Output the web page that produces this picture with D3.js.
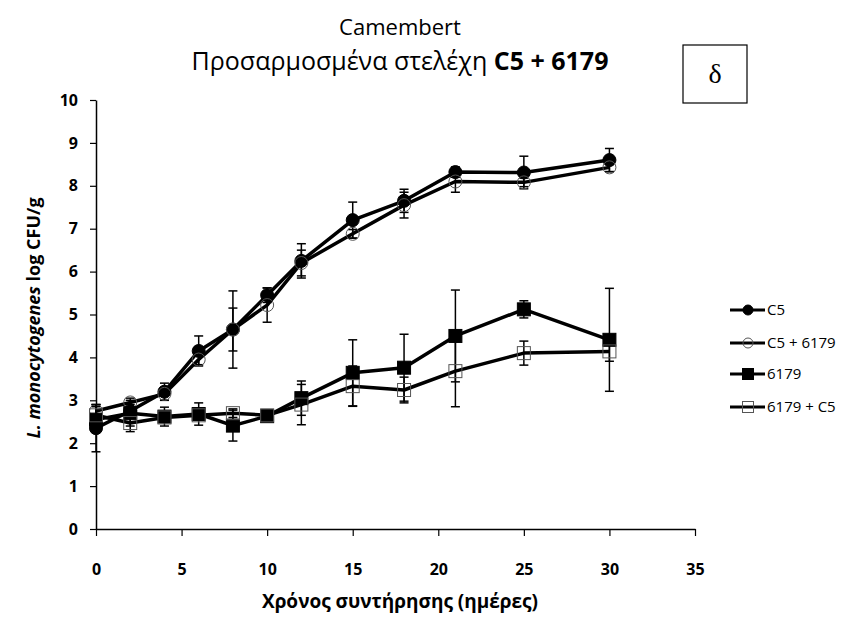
<!DOCTYPE html>
<html>
<head>
<meta charset="utf-8">
<script src="https://cdn.jsdelivr.net/npm/d3@7"></script>
<style>
  body { margin: 0; background: #fff; }
  svg { display: block; font-family: "Open Sans", "Noto Sans", sans-serif; }
</style>
</head>
<body>
<svg id="chart" width="849" height="617"></svg>
<script>
// Storage time (days)
const days = [0, 2, 4, 6, 8, 10, 12, 15, 18, 21, 25, 30];

// Series names
const seriesNames = ["C5", "C5 + 6179", "6179", "6179 + C5"];

// Mean counts, log CFU/g
const c5      = [2.35, 2.75, 3.2, 4.15, 4.65, 5.45, 6.25, 7.2, 7.65, 8.32, 8.31, 8.6];
const c5Mix   = [2.75, 2.95, 3.15, 3.95, 4.65, 5.22, 6.2, 6.88, 7.55, 8.1, 8.08, 8.43];
const s6179   = [2.55, 2.7, 2.62, 2.68, 2.41, 2.63, 3.05, 3.64, 3.76, 4.5, 5.12, 4.41];
const s6179Mix= [2.65, 2.47, 2.6, 2.65, 2.7, 2.65, 2.9, 3.33, 3.24, 3.68, 4.1, 4.14];

// Standard deviations
const c5Err      = [0.55, 0.15, 0.2, 0.35, 0.9, 0.17, 0.4, 0.42, 0.27, 0.12, 0.38, 0.27];
const c5MixErr   = [0.15, 0.1, 0.15, 0.12, 0.5, 0.4, 0.3, 0.1, 0.3, 0.25, 0.1, 0.1];
const s6179Err   = [0.3, 0.3, 0.22, 0.26, 0.36, 0.08, 0.4, 0.77, 0.78, 1.07, 0.2, 1.2];
const s6179MixErr= [0.25, 0.2, 0.1, 0.1, 0.1, 0.08, 0.47, 0.47, 0.3, 0.83, 0.28, 0.23];

const xTicks = [0, 5, 10, 15, 20, 25, 30, 35];
const yTicks = [0, 1, 2, 3, 4, 5, 6, 7, 8, 9, 10];

const series = [
  { name: seriesNames[0], values: c5,       err: c5Err,       shape: "circle", filled: true },
  { name: seriesNames[1], values: c5Mix,    err: c5MixErr,    shape: "circle", filled: false },
  { name: seriesNames[2], values: s6179,    err: s6179Err,    shape: "square", filled: true },
  { name: seriesNames[3], values: s6179Mix, err: s6179MixErr, shape: "square", filled: false }
];

const svg = d3.select("#chart");
const x = d3.scaleLinear().domain([0, 35]).range([96, 695]);
const y = d3.scaleLinear().domain([0, 10]).range([529, 100]);

// Axes
const xAxis = svg.append("g").attr("transform", `translate(0,${y(0)})`)
  .call(d3.axisBottom(x).tickValues(xTicks).tickSize(7).tickSizeOuter(0).tickPadding(28));
const yAxis = svg.append("g").attr("transform", `translate(${x(0)},0)`)
  .call(d3.axisLeft(y).tickValues(yTicks).tickSize(6).tickSizeOuter(0).tickPadding(12));
[xAxis, yAxis].forEach(a => {
  a.select(".domain").attr("stroke", "#000").attr("stroke-width", 1.5);
  a.selectAll(".tick line").attr("stroke", "#000").attr("stroke-width", 1.2);
  a.selectAll(".tick text").attr("fill", "#000").attr("font-size", 16)
    .attr("font-weight", "bold").attr("font-family", "'Open Sans', sans-serif");
});

const line = d3.line().x((d, i) => x(days[i])).y(d => y(d));

function drawMarker(g, s, cx, cy) {
  if (s.shape === "circle") {
    g.append("circle").attr("cx", cx).attr("cy", cy).attr("r", 6.5)
      .attr("fill", s.filled ? "#000" : "none")
      .attr("stroke", s.filled ? "#000" : "#555").attr("stroke-width", 1);
  } else {
    g.append("rect").attr("x", cx - 6.5).attr("y", cy - 6.5).attr("width", 13).attr("height", 13)
      .attr("fill", s.filled ? "#000" : "none")
      .attr("stroke", s.filled ? "#000" : "#555").attr("stroke-width", 1);
  }
}

series.forEach(s => {
  const g = svg.append("g");
  // error bars
  s.values.forEach((v, i) => {
    const cx = x(days[i]);
    const top = y(v + s.err[i]), bot = y(v - s.err[i]);
    g.append("line").attr("x1", cx).attr("x2", cx).attr("y1", top).attr("y2", bot)
      .attr("stroke", "#000").attr("stroke-width", 1.5);
    [top, bot].forEach(yy => g.append("line").attr("x1", cx - 4.5).attr("x2", cx + 4.5)
      .attr("y1", yy).attr("y2", yy).attr("stroke", "#000").attr("stroke-width", 1.5));
  });
  g.append("path").datum(s.values).attr("d", line)
    .attr("fill", "none").attr("stroke", "#000").attr("stroke-width", 3.5)
    .attr("stroke-linejoin", "round");
  s.values.forEach((v, i) => drawMarker(g, s, x(days[i]), y(v)));
});

// Legend
const legY = [310, 343, 374, 407];
series.forEach((s, i) => {
  const g = svg.append("g");
  g.append("line").attr("x1", 730).attr("x2", 765).attr("y1", legY[i]).attr("y2", legY[i])
    .attr("stroke", "#000").attr("stroke-width", 3);
  if (s.shape === "circle") {
    g.append("circle").attr("cx", 748).attr("cy", legY[i]).attr("r", 5)
      .attr("fill", s.filled ? "#000" : "none").attr("stroke", s.filled ? "#000" : "#555");
  } else {
    g.append("rect").attr("x", 742.5).attr("y", legY[i] - 5.5).attr("width", 11).attr("height", 11)
      .attr("fill", s.filled ? "#000" : "none").attr("stroke", s.filled ? "#000" : "#555");
  }
  g.append("text").attr("x", 767).attr("y", legY[i]).attr("dy", "0.35em")
    .attr("font-size", 15).attr("fill", "#000").text(s.name);
});

// Titles
svg.append("text").attr("x", 400).attr("y", 35).attr("text-anchor", "middle")
  .attr("font-size", 22).attr("fill", "#000").text("Camembert");
const t2 = svg.append("text").attr("x", 400).attr("y", 70).attr("text-anchor", "middle")
  .attr("font-size", 25).attr("fill", "#000");
t2.append("tspan").text("Προσαρμοσμένα στελέχη ");
t2.append("tspan").attr("font-weight", "bold").text("C5 + 6179");

// Panel label
svg.append("rect").attr("x", 683).attr("y", 45).attr("width", 64).attr("height", 58)
  .attr("fill", "#fff").attr("stroke", "#000").attr("stroke-width", 1.2);
svg.append("text").attr("x", 715).attr("y", 83).attr("text-anchor", "middle")
  .attr("font-family", "'Liberation Serif', serif").attr("font-size", 28).attr("fill", "#000").text("δ");

// Axis titles
svg.append("text").attr("x", 400).attr("y", 608).attr("text-anchor", "middle")
  .attr("font-size", 19).attr("font-weight", "bold").attr("fill", "#000")
  .text("Χρόνος συντήρησης (ημέρες)");
const yt = svg.append("text").attr("transform", "translate(40,318) rotate(-90)")
  .attr("text-anchor", "middle").attr("font-size", 18).attr("font-weight", "bold").attr("fill", "#000");
yt.append("tspan").attr("font-style", "italic").text("L. monocytogenes");
yt.append("tspan").text(" log CFU/g");
</script>
</body>
</html>
